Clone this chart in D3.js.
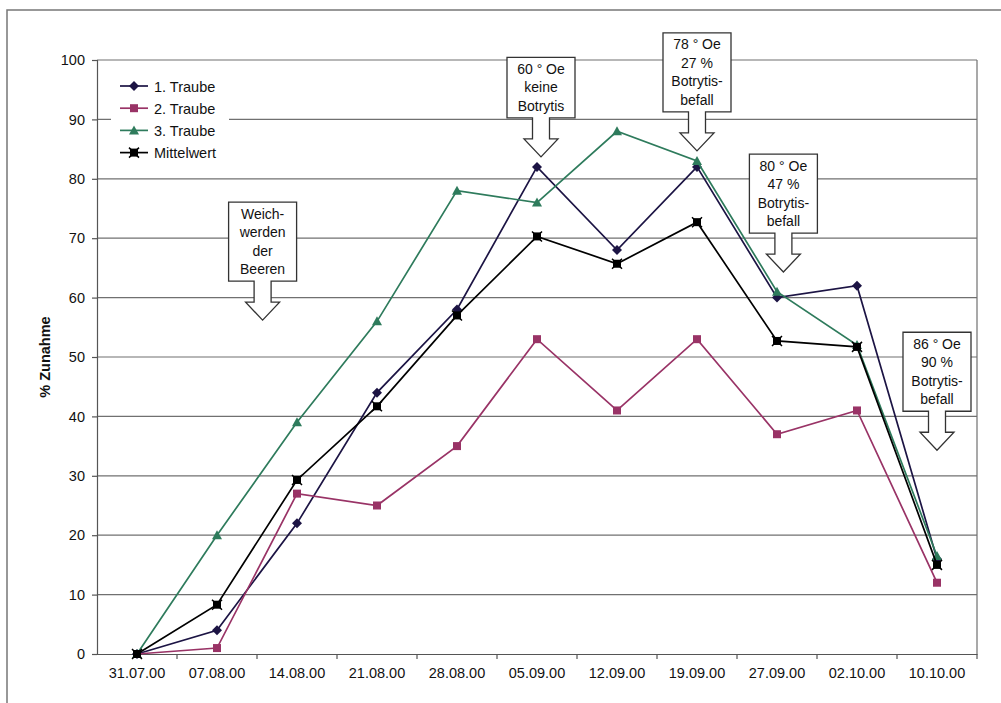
<!DOCTYPE html>
<html>
<head>
<meta charset="utf-8">
<script src="https://cdn.jsdelivr.net/npm/d3@7"></script>
<style>
  body { margin: 0; background: #fff; }
  svg { display: block; font-family: Arial, "Liberation Sans", sans-serif; }
</style>
</head>
<body>
<svg id="chart"></svg>
<script>
// data
const dates = ["31.07.00", "07.08.00", "14.08.00", "21.08.00", "28.08.00", "05.09.00",
  "12.09.00", "19.09.00", "27.09.00", "02.10.00", "10.10.00"];
const traube1 = [0, 4, 22, 44, 58, 82, 68, 82, 60, 62, 16];
const traube2 = [0, 1, 27, 25, 35, 53, 41, 53, 37, 41, 12];
const traube3 = [0, 20, 39, 56, 78, 76, 88, 83, 61, 52, 16.5];
const mittelwert = [0, 8.3, 29.3, 41.7, 57, 70.3, 65.7, 72.7, 52.7, 51.7, 15];
const yTicks = [0, 10, 20, 30, 40, 50, 60, 70, 80, 90, 100];

const series = [
  { name: "1. Traube", values: traube1, color: "#1c1444", marker: "diamond" },
  { name: "2. Traube", values: traube2, color: "#993366", marker: "square" },
  { name: "3. Traube", values: traube3, color: "#2e7b5c", marker: "triangle" },
  { name: "Mittelwert", values: mittelwert, color: "#000000", marker: "x" }
];

// callouts: arrow tip at a category (+ fraction of band) and a y value
const notes = [
  { lines: ["Weich-", "werden", "der", "Beeren"], cat: "07.08.00", off: 0.57, tip: 56.2 },
  { lines: ["60 ° Oe", "keine", "Botrytis"], cat: "05.09.00", off: 0.05, tip: 83.7 },
  { lines: ["78 ° Oe", "27 %", "Botrytis-", "befall"], cat: "19.09.00", off: 0, tip: 84.7 },
  { lines: ["80 ° Oe", "47 %", "Botrytis-", "befall"], cat: "27.09.00", off: 0.08, tip: 64.3 },
  { lines: ["86 ° Oe", "90 %", "Botrytis-", "befall"], cat: "10.10.00", off: 0, tip: 34.3 }
];

const width = 1001, height = 703;
const plot = { left: 97, right: 977, top: 60, bottom: 654 };

const svg = d3.select("#chart").attr("width", width).attr("height", height);

// outer frame (only left and top edges are inside the picture)
svg.append("path")
  .attr("d", `M7,${height}V10H${width}`)
  .attr("fill", "none").attr("stroke", "#777").attr("stroke-width", 1.5);

const x = d3.scaleBand().domain(dates).range([plot.left, plot.right]).padding(0);
const y = d3.scaleLinear().domain([0, 100]).range([plot.bottom, plot.top]);
const cx = (d) => x(d) + x.bandwidth() / 2;

// grid
svg.append("g").selectAll("line").data(yTicks.slice(1)).join("line")
  .attr("x1", plot.left).attr("x2", plot.right)
  .attr("y1", (d) => y(d)).attr("y2", (d) => y(d))
  .attr("stroke", "#707070").attr("stroke-width", 1.2);

svg.append("line")
  .attr("x1", plot.right).attr("x2", plot.right).attr("y1", plot.top).attr("y2", plot.bottom)
  .attr("stroke", "#707070").attr("stroke-width", 1.2);

// axes
const yAxis = svg.append("g").attr("transform", `translate(${plot.left},0)`)
  .call(d3.axisLeft(y).tickValues(yTicks).tickSize(5).tickPadding(7));
const xAxis = svg.append("g").attr("transform", `translate(0,${plot.bottom})`)
  .call(d3.axisBottom(x).tickSize(0).tickPadding(14));

[yAxis, xAxis].forEach((g) => {
  g.select(".domain").attr("stroke", "#555").attr("stroke-width", 1.2);
  g.selectAll(".tick line").attr("stroke", "#555").attr("stroke-width", 1.2);
  g.selectAll(".tick text").attr("fill", "#111").style("font-size", "14.5px")
    .style("font-family", "Arial, 'Liberation Sans', sans-serif");
});

// x tick marks at band boundaries
svg.append("g").selectAll("line").data(dates).join("line")
  .attr("x1", (d, i) => plot.left + (i + 1) * x.bandwidth())
  .attr("x2", (d, i) => plot.left + (i + 1) * x.bandwidth())
  .attr("y1", plot.bottom).attr("y2", plot.bottom + 5)
  .attr("stroke", "#555").attr("stroke-width", 1.2);

svg.append("text")
  .attr("transform", `translate(50,${(plot.top + plot.bottom) / 2}) rotate(-90)`)
  .attr("text-anchor", "middle")
  .style("font-size", "14.5px").style("font-weight", "bold").attr("fill", "#111")
  .text("% Zunahme");

// markers
function drawMarker(g, type, color, px, py) {
  if (type === "diamond") {
    g.append("path").attr("d", `M${px},${py - 5}L${px + 5},${py}L${px},${py + 5}L${px - 5},${py}Z`)
      .attr("fill", color);
  } else if (type === "square") {
    g.append("rect").attr("x", px - 4).attr("y", py - 4).attr("width", 8).attr("height", 8)
      .attr("fill", color);
  } else if (type === "triangle") {
    g.append("path").attr("d", `M${px},${py - 5}L${px + 5},${py + 4}L${px - 5},${py + 4}Z`)
      .attr("fill", color);
  } else {
    g.append("rect").attr("x", px - 4).attr("y", py - 4).attr("width", 8).attr("height", 8)
      .attr("fill", color);
    g.append("path").attr("d", `M${px - 5},${py - 5}L${px + 5},${py + 5}M${px + 5},${py - 5}L${px - 5},${py + 5}`)
      .attr("stroke", color).attr("stroke-width", 1.5);
  }
}

const line = d3.line().x((d, i) => cx(dates[i])).y((d) => y(d));

series.forEach((s) => {
  const g = svg.append("g");
  g.append("path").datum(s.values).attr("d", line)
    .attr("fill", "none").attr("stroke", s.color).attr("stroke-width", 1.7);
  s.values.forEach((v, i) => drawMarker(g, s.marker, s.color, cx(dates[i]), y(v)));
});

// legend
const legend = svg.append("g");
legend.append("rect").attr("x", 111).attr("y", 72).attr("width", 118).attr("height", 94).attr("fill", "#fff");
series.forEach((s, i) => {
  const ly = 86 + i * 22.2;
  legend.append("line").attr("x1", 120).attr("x2", 148).attr("y1", ly).attr("y2", ly)
    .attr("stroke", s.color).attr("stroke-width", 1.7);
  drawMarker(legend, s.marker, s.color, 134, ly);
  legend.append("text").attr("x", 154).attr("y", ly + 5.5)
    .style("font-size", "14.5px").attr("fill", "#111").text(s.name);
});

// callout arrows
const boxW = 68, lineH = 18.5, shaftW = 17, headW = 34, headH = 18, shaftH = 21;
notes.forEach((n) => {
  const tx = x(n.cat) + x.bandwidth() / 2 + n.off * x.bandwidth();
  const ty = y(n.tip);
  const bottom = ty - headH - shaftH;
  const top = bottom - (n.lines.length * lineH + 5);
  const l = tx - boxW / 2, r = tx + boxW / 2;
  const hy = ty - headH;
  const d = `M${l},${top}H${r}V${bottom}H${tx + shaftW / 2}V${hy}H${tx + headW / 2}` +
    `L${tx},${ty}L${tx - headW / 2},${hy}H${tx - shaftW / 2}V${bottom}H${l}Z`;
  svg.append("path").attr("d", d).attr("fill", "#fff").attr("stroke", "#333").attr("stroke-width", 1.3);
  n.lines.forEach((t, i) => {
    svg.append("text").attr("x", tx).attr("y", top + 16.5 + i * lineH)
      .attr("text-anchor", "middle").style("font-size", "14px").attr("fill", "#111").text(t);
  });
});
</script>
</body>
</html>
